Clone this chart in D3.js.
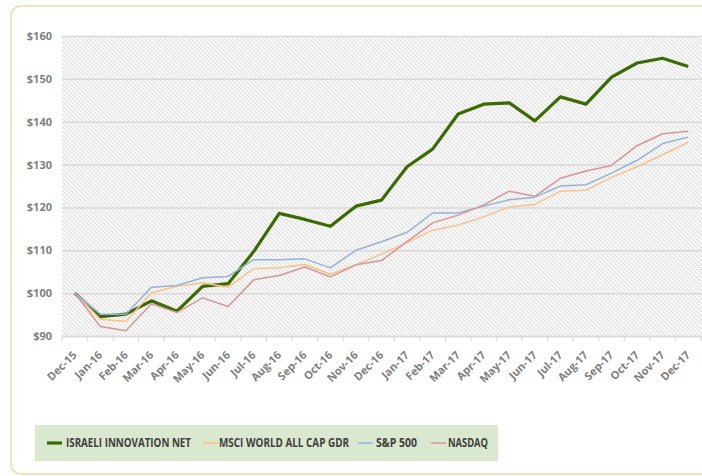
<!DOCTYPE html>
<html>
<head>
<meta charset="utf-8">
<script src="https://cdn.jsdelivr.net/npm/d3@7"></script>
<style>
  body { margin: 0; background: #fff; }
  svg text { font-family: "Open Sans", sans-serif; }
</style>
</head>
<body>
<svg class="chart" width="702" height="476"></svg>
<script>
var months = ["Dec-15","Jan-16","Feb-16","Mar-16","Apr-16","May-16","Jun-16","Jul-16","Aug-16","Sep-16","Oct-16","Nov-16","Dec-16",
              "Jan-17","Feb-17","Mar-17","Apr-17","May-17","Jun-17","Jul-17","Aug-17","Sep-17","Oct-17","Nov-17","Dec-17"];
var israeli = [100,94.5,95.1,98.2,95.8,101.6,102.2,109.7,118.6,117.2,115.6,120.3,121.7,
               129.5,133.6,141.8,144.1,144.4,140.2,145.8,144.1,150.4,153.7,154.8,152.9];
var msci    = [100,93.9,93.4,100.1,101.6,102.4,101.4,105.7,105.9,106.7,104.4,106.6,109.1,
               111.8,114.7,115.9,117.8,120.1,120.7,123.8,124.0,127.0,129.5,132.3,135.2];
var sp500   = [100,95.1,95.1,101.4,101.8,103.6,103.9,107.8,107.8,108.0,105.9,110.0,112.0,
               114.2,118.7,118.7,120.3,121.8,122.4,125.0,125.3,128.0,131.0,134.9,136.4];
var nasdaq  = [100,92.2,91.2,97.5,95.5,98.9,96.9,103.1,104.1,106.1,103.8,106.6,107.6,
               112.0,116.4,118.2,120.6,123.8,122.6,126.8,128.5,129.8,134.4,137.2,137.8];
var yTicks = [90,100,110,120,130,140,150,160];
var seriesNames = ["ISRAELI INNOVATION NET","MSCI WORLD ALL CAP GDR","S&P 500","NASDAQ"];

var series = [
  {name: seriesNames[0], values: israeli, color: "#3a6b00", width: 3.2},
  {name: seriesNames[1], values: msci,    color: "#fcc08c", width: 1.5},
  {name: seriesNames[2], values: sp500,   color: "#93b3da", width: 1.5},
  {name: seriesNames[3], values: nasdaq,  color: "#d99594", width: 1.5}
];

var chart = d3.select("svg.chart");
var pLeft = 62, pRight = 701, pTop = 36, pBottom = 336;

var xScale = d3.scaleBand().domain(months).range([pLeft, pRight]).padding(0);
var yScale = d3.scaleLinear().domain([90, 160]).range([pBottom, pTop]);
var cx = function(m) { return xScale(m) + xScale.bandwidth() / 2; };

// outer frame
chart.append("rect")
  .attr("x", 11).attr("y", 6).attr("width", 720).attr("height", 468)
  .attr("rx", 10).attr("ry", 10)
  .attr("fill", "none").attr("stroke", "#f2d9a4").attr("stroke-width", 1.5);

// hatch background
var defs = chart.append("defs");
var pat = defs.append("pattern").attr("id", "hatch")
  .attr("patternUnits", "userSpaceOnUse").attr("width", 3).attr("height", 3)
  .attr("patternTransform", "rotate(45)");
pat.append("rect").attr("width", 3).attr("height", 3).attr("fill", "#fafafa");
pat.append("line").attr("x1", 0).attr("y1", 0.5).attr("x2", 3).attr("y2", 0.5)
  .attr("stroke", "#dedede").attr("stroke-width", 1);

chart.append("rect")
  .attr("x", pLeft).attr("y", pTop).attr("width", pRight - pLeft + 1).attr("height", pBottom - pTop)
  .attr("fill", "url(#hatch)");

// y axis
var yAxis = d3.axisLeft(yScale).tickValues(yTicks).tickSize(-(pRight - pLeft + 1))
  .tickFormat(function(d) { return "$" + d; });
chart.append("g").attr("id", "yAxisG")
  .attr("transform", "translate(" + pLeft + ",0)")
  .call(yAxis)
  .call(function(g) {
    g.select(".domain").remove();
    g.selectAll(".tick line").attr("stroke", "#d9d9d9").attr("stroke-width", 1.5);
    g.selectAll(".tick text").attr("x", -10).attr("fill", "#7f7f7f")
      .style("font-size", "11px").style("font-weight", "bold");
  });

// x axis
var xAxis = d3.axisBottom(xScale).tickSize(0);
var xg = chart.append("g").attr("id", "xAxisG")
  .attr("transform", "translate(0," + pBottom + ")")
  .call(xAxis);
xg.select(".domain").attr("stroke", "#d9d9d9").attr("stroke-width", 1.5);
xg.selectAll(".tick text")
  .attr("fill", "#7f7f7f").style("font-size", "11px").style("font-weight", "bold")
  .attr("text-anchor", "end")
  .attr("transform", "translate(0,17) rotate(-45)")
  .attr("x", 0).attr("y", 0).attr("dy", "0.35em");
// tick marks between categories
xg.selectAll("line.sep")
  .data(months.concat(["end"]))
  .enter().append("line").attr("class", "sep")
  .attr("x1", function(d, i) { return pLeft + i * xScale.bandwidth(); })
  .attr("x2", function(d, i) { return pLeft + i * xScale.bandwidth(); })
  .attr("y1", 0).attr("y2", 5)
  .attr("stroke", "#d9d9d9").attr("stroke-width", 1.2);

// lines
var line = d3.line()
  .x(function(d, i) { return cx(months[i]); })
  .y(function(d) { return yScale(d); });

chart.selectAll("path.series")
  .data(series)
  .enter().append("path").attr("class", "series")
  .attr("d", function(s) { return line(s.values); })
  .attr("fill", "none")
  .attr("stroke", function(s) { return s.color; })
  .attr("stroke-width", function(s) { return s.width; })
  .attr("stroke-linejoin", "round");

// legend
var legend = chart.append("g").attr("id", "legend");
legend.append("rect")
  .attr("x", 35).attr("y", 425).attr("width", 463).attr("height", 36)
  .attr("fill", "#d9e8cf");
var legendPos = [{lx: 47, tx: 66, tw: 125}, {lx: 203, tx: 219, tw: 130}, {lx: 358, tx: 376, tw: 41}, {lx: 431, tx: 448, tw: 40}];
var items = legend.selectAll("g.item")
  .data(series)
  .enter().append("g").attr("class", "item");
items.append("line")
  .attr("x1", function(d, i) { return legendPos[i].lx; })
  .attr("x2", function(d, i) { return legendPos[i].lx + 15; })
  .attr("y1", 443).attr("y2", 443)
  .attr("stroke", function(d) { return d.color; })
  .attr("stroke-width", function(d) { return d.width; });
items.append("text")
  .attr("x", function(d, i) { return legendPos[i].tx; })
  .attr("y", 443).attr("dy", "0.35em")
  .attr("textLength", function(d, i) { return legendPos[i].tw; })
  .attr("lengthAdjust", "spacingAndGlyphs")
  .attr("fill", "#404040")
  .style("font-size", "12px").style("font-weight", "bold")
  .text(function(d) { return d.name; });
</script>
</body>
</html>
